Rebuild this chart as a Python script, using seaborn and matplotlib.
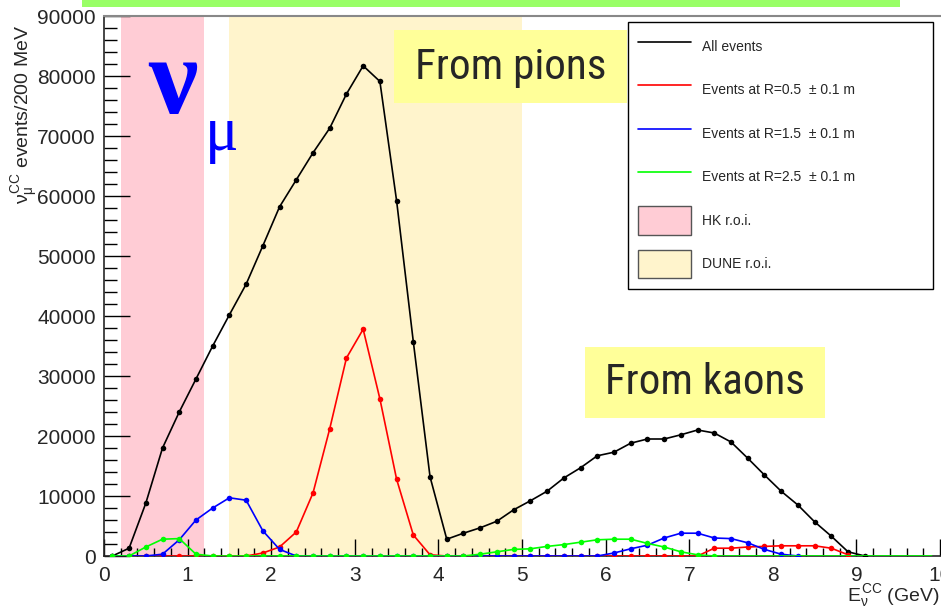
import numpy as np
import pandas as pd
import matplotlib
matplotlib.use("Agg")
import matplotlib.pyplot as plt
import seaborn as sns
from matplotlib.patches import Rectangle, Patch
from matplotlib.lines import Line2D
from matplotlib.legend_handler import HandlerLine2D
from matplotlib.ticker import MultipleLocator

# Bin centres (GeV), 200 MeV bins
energy = [0.1, 0.3, 0.5, 0.7, 0.9, 1.1, 1.3, 1.5, 1.7, 1.9,
          2.1, 2.3, 2.5, 2.7, 2.9, 3.1, 3.3, 3.5, 3.7, 3.9,
          4.1, 4.3, 4.5, 4.7, 4.9, 5.1, 5.3, 5.5, 5.7, 5.9,
          6.1, 6.3, 6.5, 6.7, 6.9, 7.1, 7.3, 7.5, 7.7, 7.9,
          8.1, 8.3, 8.5, 8.7, 8.9, 9.1, 9.3, 9.5, 9.7, 9.9]

all_events = [0, 1300, 8800, 18000, 24000, 29500, 35000, 40200, 45300, 51700,
              58200, 62700, 67200, 71300, 77000, 81700, 79100, 59200, 35700, 13200,
              2800, 3800, 4700, 5800, 7700, 9200, 10800, 13000, 14700, 16700,
              17300, 18800, 19500, 19500, 20200, 21000, 20500, 19000, 16300, 13500,
              10800, 8500, 5700, 3300, 700, 0]

r05_events = [0, 0, 0, 0, 0, 0, 0, 0, 0, 500,
              1500, 4000, 10500, 21200, 33000, 37800, 26200, 12800, 3500, 200,
              0, 0, 0, 0, 0, 0, 0, 0, 0, 0,
              0, 0, 0, 0, 0, 0, 1300, 1300, 1500, 1600,
              1700, 1700, 1700, 1300, 200]

r15_events = [0, 0, 0, 300, 2700, 6000, 8000, 9700, 9300, 4200,
              1100, 0, 0, 0, 0, 0, 0, 0, 0, 0,
              0, 0, 0, 0, 0, 0, 0, 0, 0, 0,
              500, 1200, 1800, 3000, 3800, 3800, 3000, 2900, 2200, 1100,
              300, 0]

r25_events = [0, 0, 1500, 2800, 2900, 300, 0, 0, 0, 0,
              0, 0, 0, 0, 0, 0, 0, 0, 0, 0,
              0, 0, 300, 700, 1100, 1200, 1600, 1900, 2300, 2700,
              2800, 2800, 2100, 1500, 700, 200, 0, 0, 0, 0,
              0, 0, 0, 0, 0, 0, 0, 0, 0, 0]
r25_marked = 37  # markers shown only on the first points

hk_roi = [0.2, 1.2]
dune_roi = [1.5, 5.0]

series_labels = ["All events", "Events at R=0.5  \u00b1 0.1 m",
                 "Events at R=1.5  \u00b1 0.1 m", "Events at R=2.5  \u00b1 0.1 m"]
series_colors = ["black", "#ff0000", "#0000ff", "#00ff00"]
roi_labels = ["HK r.o.i.", "DUNE r.o.i."]
roi_colors = ["#ffccd5", "#fff4cc"]

sns.set_style("ticks")
plt.rcParams['font.family'] = ['Liberation Sans', 'DejaVu Sans']
plt.rcParams['mathtext.fontset'] = 'custom'
plt.rcParams['mathtext.rm'] = 'Liberation Sans'
plt.rcParams['mathtext.it'] = 'Liberation Sans'

W, H = 941, 606
fig = plt.figure(figsize=(W / 100, H / 100), dpi=100)
ax = fig.add_axes([104 / W, 50 / H, 836 / W, 540 / H])


def fx(px):
    return px / W


def fy(py):
    return 1 - py / H


ax.axvspan(hk_roi[0], hk_roi[1], color=roi_colors[0], lw=0, zorder=0)
ax.axvspan(dune_roi[0], dune_roi[1], color=roi_colors[1], lw=0, zorder=0)

all_series = [all_events, r05_events, r15_events, r25_events]
for vals, col in zip(all_series, series_colors):
    df = pd.DataFrame({"E": energy[:len(vals)], "N": vals})
    mk = list(range(r25_marked)) if vals is r25_events else None
    sns.lineplot(data=df, x="E", y="N", ax=ax, color=col, lw=1.2,
                 marker="o", markersize=4, markeredgewidth=0,
                 markevery=mk, sort=False, zorder=3)

ax.set_xlim(0, 10)
ax.set_ylim(0, 90000)
ax.set_xticks(range(11))
ax.set_yticks(range(0, 90001, 10000))
ax.xaxis.set_minor_locator(MultipleLocator(0.2))
ax.yaxis.set_minor_locator(MultipleLocator(2000))
ax.tick_params(axis='both', which='both', direction='in', color='black',
               width=1, labelsize=15)
ax.tick_params(axis='y', which='major', length=18.5, pad=6)
ax.tick_params(axis='y', which='minor', length=9.3)
ax.tick_params(axis='x', which='major', length=12, pad=7)
ax.tick_params(axis='x', which='minor', length=6)
ax.set_xlabel("")
ax.set_ylabel("")
ax.spines['right'].set_visible(False)
ax.spines['top'].set_color('#888888')
ax.spines['top'].set_linewidth(1.5)
ax.spines['left'].set_linewidth(1.2)
ax.spines['bottom'].set_linewidth(1.2)
ax.set_facecolor('white')

fig.text(fx(25), fy(25), r"$\nu_{\mu}^{CC}$ events/200 MeV", rotation=90,
         ha='center', va='top', fontsize=14)
fig.text(fx(940), fy(601), r"$E_{\nu}^{CC}$ (GeV)", ha='right', va='baseline',
         fontsize=14)

handles = [Line2D([], [], color=c, lw=1.2) for c in series_colors]
handles += [Patch(facecolor=c, edgecolor='#555555', lw=1) for c in roi_colors]
leg = ax.legend(handles, series_labels + roi_labels, loc='upper left',
                bbox_to_anchor=(fx(628), fy(286), 305 / W, 264 / H),
                bbox_transform=fig.transFigure, mode='expand',
                fontsize=10, frameon=True, fancybox=False, framealpha=1,
                edgecolor='black', handlelength=3.8, handleheight=2.75,
                handletextpad=0.75, labelspacing=1.1, borderpad=0.75,
                borderaxespad=0,
                handler_map={Line2D: HandlerLine2D(marker_pad=0)})
leg.get_frame().set_linewidth(1)
leg.set_zorder(10)

# slide decorations
fig.add_artist(Rectangle((fx(82), fy(7)), 818 / W, 7 / H,
                         transform=fig.transFigure, color='#99ff66', lw=0))
fig.add_artist(Rectangle((fx(394), fy(103)), 233 / W, 73 / H,
                         transform=fig.transFigure, color='#ffff99', lw=0))
fig.add_artist(Rectangle((fx(585), fy(418)), 240 / W, 71 / H,
                         transform=fig.transFigure, color='#ffff99', lw=0))
narrow = ['Liberation Sans Narrow', 'Roboto Condensed', 'DejaVu Sans']
t1 = fig.text(fx(511), fy(67), "From pions", ha='center', va='center',
              fontsize=33, family=narrow, fontstretch='condensed')
t2 = fig.text(fx(705), fy(383), "From kaons", ha='center', va='center',
              fontsize=33, family=narrow, fontstretch='condensed')
fig.text(fx(173), fy(113), "\u03bd", ha='center', va='baseline', color='blue',
         fontsize=80, fontweight='bold', family=['Liberation Serif', 'DejaVu Serif'])
fig.text(fx(222), fy(150), "\u03bc", ha='center', va='baseline', color='blue',
         fontsize=45, family=['Liberation Serif', 'DejaVu Serif'])

# fit the box labels to the width they take in the slide
fig.canvas.draw()
for t, target in [(t1, 192), (t2, 200)]:
    w = t.get_window_extent().width
    if w > target:
        t.set_fontsize(33 * target / w)

fig.savefig("out.png", dpi=100)
